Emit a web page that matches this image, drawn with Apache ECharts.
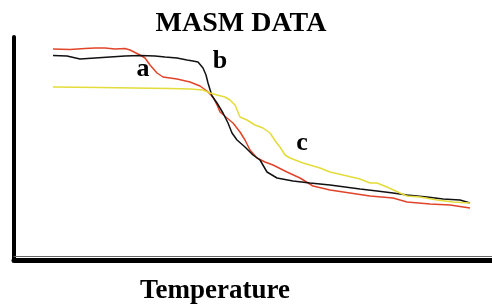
<!DOCTYPE html>
<html>
<head>
<meta charset="utf-8">
<script src="https://cdn.jsdelivr.net/npm/echarts@6/dist/echarts.min.js"></script>
<style>
  html, body { margin: 0; padding: 0; background: #fff; }
  #chart { width: 492px; height: 306px; }
</style>
</head>
<body>
<div id="chart"></div>
<script>
// curve a (red), b (black), c (yellow): [temperature, signal]
const curveA = [
  [39, 211], [56, 210.5], [71, 211.5], [81, 212], [91, 212], [101, 211], [111, 211.5],
  [116, 210], [126, 205], [131, 202], [136, 195], [143, 187], [149, 183], [163, 181],
  [176, 178], [186, 174], [193, 169], [199, 163], [203, 155], [206, 148], [213, 142],
  [219, 137], [226, 128], [231, 120], [236, 110], [243, 102], [251, 98], [259, 95],
  [273, 88], [286, 82], [299, 74], [316, 70], [336, 67], [356, 64], [379, 62],
  [393, 58], [416, 56], [436, 55], [456, 52]
];
const curveB = [
  [39, 204.5], [53, 204], [66, 201], [81, 202], [96, 203], [111, 204], [126, 204.5],
  [141, 204], [151, 203], [163, 202], [173, 200], [179, 199], [184, 198], [189, 192],
  [192, 185], [194, 177], [198, 164], [203, 157], [209, 147], [214, 137], [218, 127],
  [223, 120], [231, 113], [239, 105], [246, 100], [253, 88], [263, 82], [279, 79],
  [296, 77], [316, 75], [346, 71], [363, 69], [379, 67], [393, 65], [413, 63],
  [429, 61], [446, 60], [456, 57]
];
const curveC = [
  [39, 173], [86, 172.5], [119, 172], [156, 171.5], [176, 171], [189, 170], [196, 167],
  [203, 165], [211, 163], [216, 160], [221, 155], [226, 143], [233, 140], [241, 135],
  [249, 132], [256, 127], [262, 118], [266, 113], [271, 105], [276, 102], [289, 97],
  [306, 92], [316, 88], [329, 85], [346, 81], [356, 77], [363, 77], [373, 73],
  [386, 67], [393, 64], [406, 63], [423, 60], [439, 58], [456, 57]
];
const curveNames = ['a', 'b', 'c'];
const curveColors = ['#e0452a', '#111111', '#e3dc3a'];

const SERIF = '"Liberation Serif", "DejaVu Serif", serif';

const chart = echarts.init(document.getElementById('chart'));

function lineSeries(name, data, color) {
  return {
    type: 'line',
    name: name,
    data: data,
    showSymbol: false,
    smooth: false,
    lineStyle: { color: color, width: 1.5 },
    xAxisIndex: 0
  };
}

function label(text, x, y, size) {
  return {
    type: 'text', x: x, y: y,
    style: { text: text, font: 'bold ' + size + 'px ' + SERIF, fill: '#000', align: 'center', verticalAlign: 'middle' }
  };
}

chart.setOption({
  animation: false,
  backgroundColor: '#fff',
  grid: { left: 14, right: 0, top: 37, bottom: 46 },
  xAxis: [{
    type: 'value',
    min: 0,
    max: 478,
    axisLine: { show: true, onZero: false, lineStyle: { color: '#000', width: 5 } },
    axisTick: { show: false },
    axisLabel: { show: false },
    splitLine: { show: false }
  }, {
    type: 'value',
    position: 'bottom',
    offset: -4,
    min: 0,
    max: 478,
    axisLine: { show: true, onZero: false, lineStyle: { color: '#666', width: 1 } },
    axisTick: { show: false },
    axisLabel: { show: false },
    splitLine: { show: false }
  }],
  yAxis: {
    type: 'value',
    min: 0,
    max: 223,
    axisLine: { show: true, onZero: false, lineStyle: { color: '#000', width: 4 } },
    axisTick: { show: false },
    axisLabel: { show: false },
    splitLine: { show: false }
  },
  series: [
    lineSeries(curveNames[0], curveA, curveColors[0]),
    lineSeries(curveNames[1], curveB, curveColors[1]),
    lineSeries(curveNames[2], curveC, curveColors[2])
  ],
  graphic: [
    label('MASM DATA', 241, 24, 28),
    label('Temperature', 215, 291, 27),
    label('a', 143, 69, 26),
    label('b', 220, 61, 26),
    label('c', 302, 143, 26)
  ]
});
</script>
</body>
</html>
